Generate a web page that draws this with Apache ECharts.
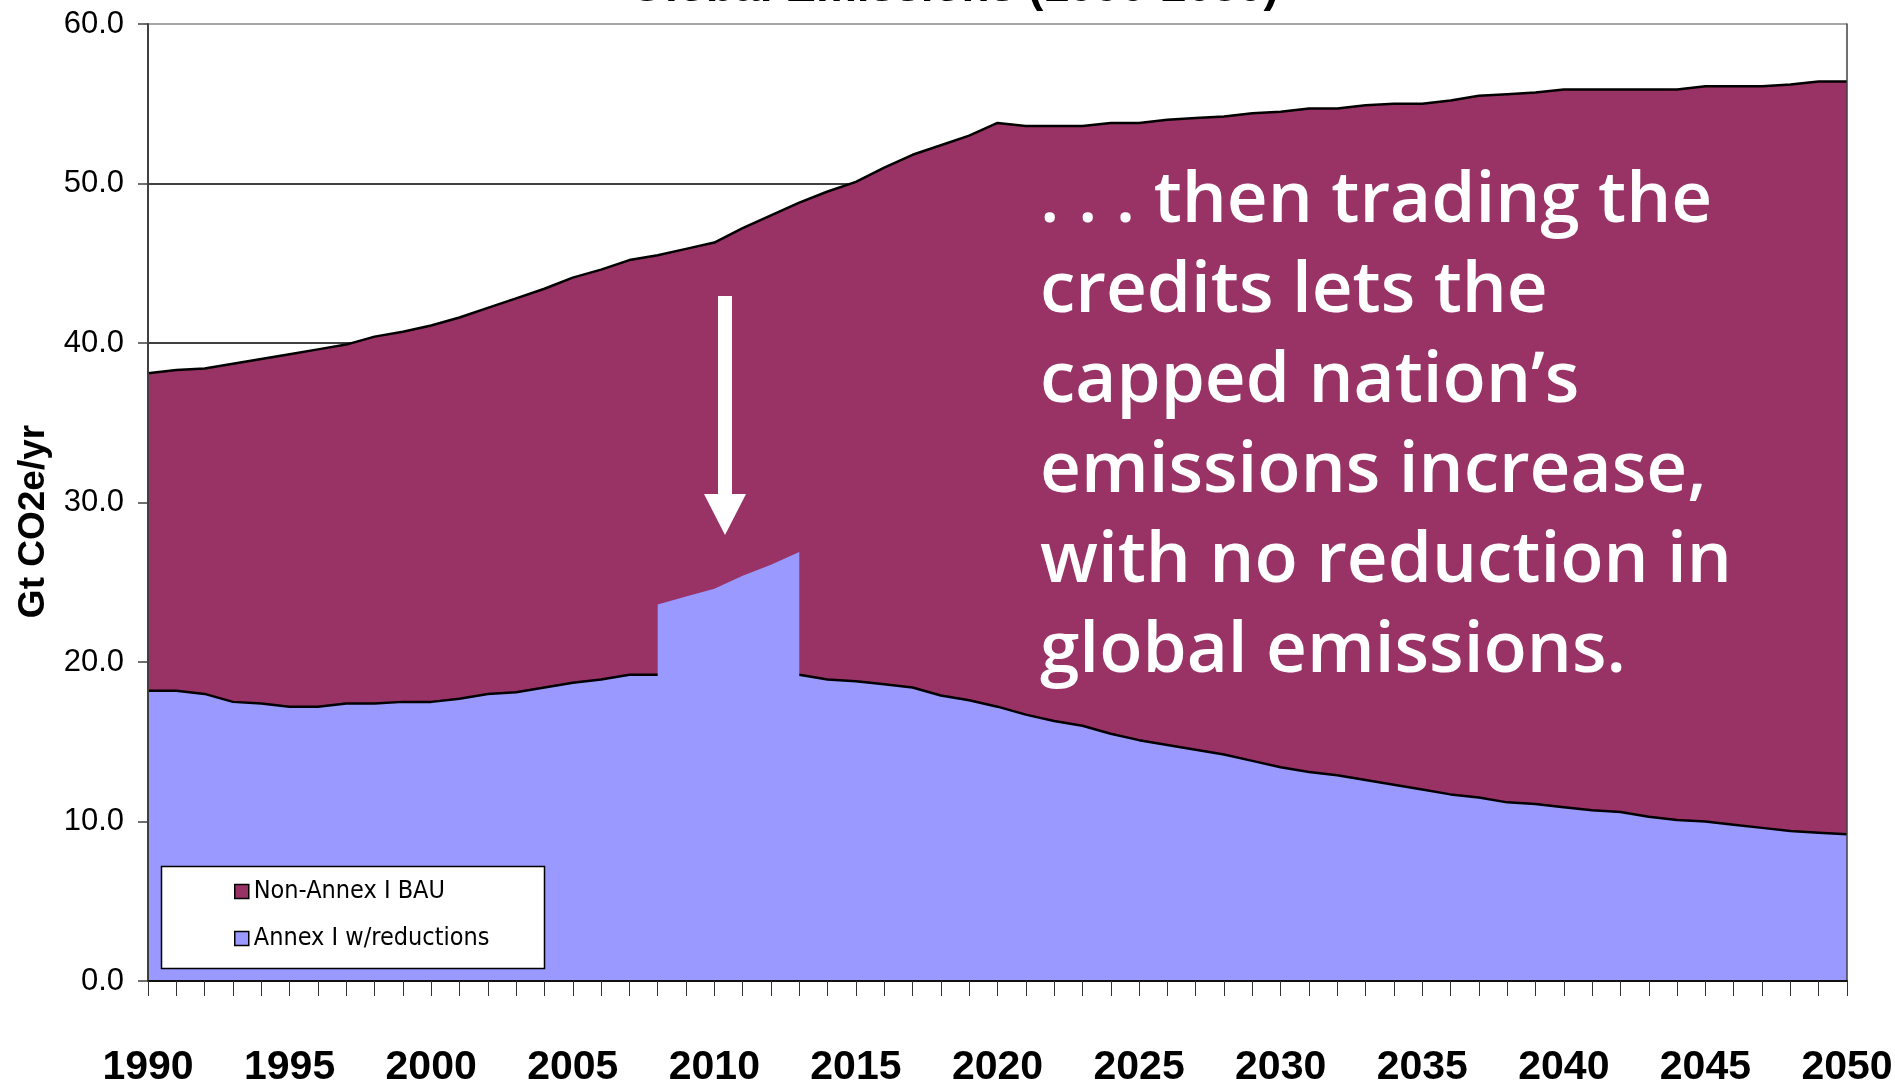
<!DOCTYPE html>
<html><head><meta charset="utf-8">
<script src="https://cdn.jsdelivr.net/npm/echarts@6/dist/echarts.min.js"></script>
<style>html,body{margin:0;padding:0;background:#fff;overflow:hidden}#c{width:1895px;height:1083px}</style>
</head><body><div id="c"></div>
<script>
// ---------- data ----------
const years = ['1990','1991','1992','1993','1994','1995','1996','1997','1998','1999',
  '2000','2001','2002','2003','2004','2005','2006','2007','2008','2009',
  '2010','2011','2012','2013','2014','2015','2016','2017','2018','2019',
  '2020','2021','2022','2023','2024','2025','2026','2027','2028','2029',
  '2030','2031','2032','2033','2034','2035','2036','2037','2038','2039',
  '2040','2041','2042','2043','2044','2045','2046','2047','2048','2049','2050'];
const annexReduced = [18.2,18.2,18.0,17.5,17.4,17.2,17.2,17.4,17.4,17.5,
  17.5,17.7,18.0,18.1,18.4,18.7,18.9,19.2,19.2,19.2,
  19.2,19.2,19.2,19.2,18.9,18.8,18.6,18.4,17.9,17.6,
  17.2,16.7,16.3,16.0,15.5,15.1,14.8,14.5,14.2,13.8,
  13.4,13.1,12.9,12.6,12.3,12.0,11.7,11.5,11.2,11.1,
  10.9,10.7,10.6,10.3,10.1,10.0,9.8,9.6,9.4,9.3,9.2];
const nonAnnexBAU = [19.9,20.1,20.4,21.2,21.6,22.1,22.4,22.5,23.0,23.2,
  23.6,23.9,24.2,24.7,25.0,25.4,25.7,26.0,26.3,26.7,
  27.1,28.0,28.8,29.6,30.6,31.3,32.4,33.4,34.5,35.4,
  36.6,36.9,37.3,37.6,38.3,38.7,39.2,39.6,40.0,40.6,
  41.1,41.6,41.8,42.3,42.7,43.0,43.5,44.0,44.4,44.6,
  45.0,45.2,45.3,45.6,45.8,46.1,46.3,46.5,46.8,47.1,47.2];
// capped nation's emissions after buying credits (drawn over the stack)
const creditYears = ['2008','2009','2010','2011','2012','2013'];
const creditEmissions = [23.6,24.1,24.6,25.4,26.1,26.9];

const seriesNames = ['Non-Annex I BAU', 'Annex I w/reductions'];
const titleText = 'Global Emissions (1990-2050)';
const yAxisTitle = 'Gt CO2e/yr';
const noteLines = ['. . . then trading the', 'credits lets the', 'capped nation\u2019s',
  'emissions increase,', 'with no reduction in', 'global emissions.'];

// ---------- style ----------
const MAROON = '#993366', LAVENDER = '#9999FF';
const NARROW = "'Liberation Sans Narrow','Arial Narrow','DejaVu Sans Condensed',sans-serif";
const SANS = "'Liberation Sans',Arial,sans-serif";

const creditSeriesData = years.map(y => {
  const i = creditYears.indexOf(y);
  return i >= 0 ? creditEmissions[i] : null;
});

const chart = echarts.init(document.getElementById('c'), null, {renderer: 'canvas'});
const yScale = {type: 'value', min: 0, max: 60, interval: 10};

chart.setOption({
  backgroundColor: '#fff',
  animation: false,
  title: {
    text: titleText, left: 949, top: -40, textAlign: 'center',
    textStyle: {fontFamily: SANS, fontWeight: 'bold', fontSize: 46, color: '#000'}
  },
  grid: {left: 148, right: 48, top: 24, bottom: 102, containLabel: false, outerBoundsMode: 'none'},
  legend: {
    orient: 'vertical', left: 229, top: 874, z: 101,
    itemWidth: 14, itemHeight: 14, itemGap: 22,
    icon: 'rect',
    data: seriesNames,
    textStyle: {fontFamily: NARROW, fontSize: 25, color: '#000'},
    itemStyle: {borderColor: '#000', borderWidth: 1.5}
  },
  xAxis: [{
    type: 'category', data: years, boundaryGap: false, z: 10,
    axisLine: {show: true, onZero: false, lineStyle: {color: '#111', width: 2}},
    axisTick: {show: true, interval: 0, length: 15, lineStyle: {color: '#333', width: 1}},
    splitLine: {show: false},
    axisLabel: {interval: 4, margin: 66, fontFamily: SANS, fontWeight: 'bold', fontSize: 41, color: '#000'}
  }],
  yAxis: [
    Object.assign({}, yScale, {
      position: 'left', z: 0,
      axisLine: {show: false}, axisTick: {show: false}, axisLabel: {show: false},
      splitLine: {show: true, lineStyle: {color: ['#000','#000','#000','#000','#000','#000','#888'], width: 1.5}}
    }),
    Object.assign({}, yScale, {
      position: 'left', z: 10,
      axisLine: {show: true, onZero: false, lineStyle: {color: '#404040', width: 2}},
      axisTick: {show: true, length: 10, lineStyle: {color: '#404040', width: 1.5}},
      splitLine: {show: false},
      axisLabel: {margin: 24, fontFamily: SANS, fontSize: 31, color: '#000', formatter: v => v.toFixed(1)},
      name: yAxisTitle, nameLocation: 'middle', nameGap: 94, nameRotate: 90,
      nameTextStyle: {fontFamily: SANS, fontWeight: 'bold', fontSize: 37, color: '#000', padding: [0, 0, 0, -38]}
    }),
    Object.assign({}, yScale, {
      position: 'right', z: 10,
      axisLine: {show: true, onZero: false, lineStyle: {color: '#404040', width: 1.5}},
      axisTick: {show: false}, axisLabel: {show: false}, splitLine: {show: false}
    })
  ],
  series: [
    {
      name: seriesNames[1], type: 'line', stack: 'total', yAxisIndex: 0, z: 3,
      data: annexReduced, symbol: 'none', smooth: false,
      lineStyle: {color: '#000', width: 2.5},
      itemStyle: {color: LAVENDER, borderColor: '#000'},
      areaStyle: {color: LAVENDER, opacity: 1}
    },
    {
      name: seriesNames[0], type: 'line', stack: 'total', yAxisIndex: 0, z: 2,
      data: nonAnnexBAU, symbol: 'none', smooth: false,
      lineStyle: {color: '#000', width: 2.5},
      itemStyle: {color: MAROON, borderColor: '#000'},
      areaStyle: {color: MAROON, opacity: 1}
    },
    {
      name: 'credits', type: 'line', yAxisIndex: 0, z: 4,
      data: creditSeriesData, symbol: 'none', connectNulls: false,
      lineStyle: {width: 0, color: LAVENDER},
      areaStyle: {color: LAVENDER, opacity: 1, origin: 'start'},
      silent: true
    }
  ],
  graphic: [
    {type: 'rect', z: 100, shape: {x: 161.5, y: 866.5, width: 383, height: 102},
      style: {fill: '#fff', stroke: '#000', lineWidth: 1.5}},
    {type: 'rect', z: 100, shape: {x: 718, y: 296, width: 14, height: 199}, style: {fill: '#fff'}},
    {type: 'polygon', z: 100, shape: {points: [[704, 494], [746, 494], [725, 535]]}, style: {fill: '#fff'}},
    {type: 'text', z: 100, x: 1040, y: 157,
      style: {text: noteLines.join('\n'), fill: '#fff', fontFamily: "'Open Sans',sans-serif",
        fontWeight: 600, fontSize: 71, lineHeight: 90, textAlign: 'left', textVerticalAlign: 'top'}}
  ]
});
</script></body></html>
